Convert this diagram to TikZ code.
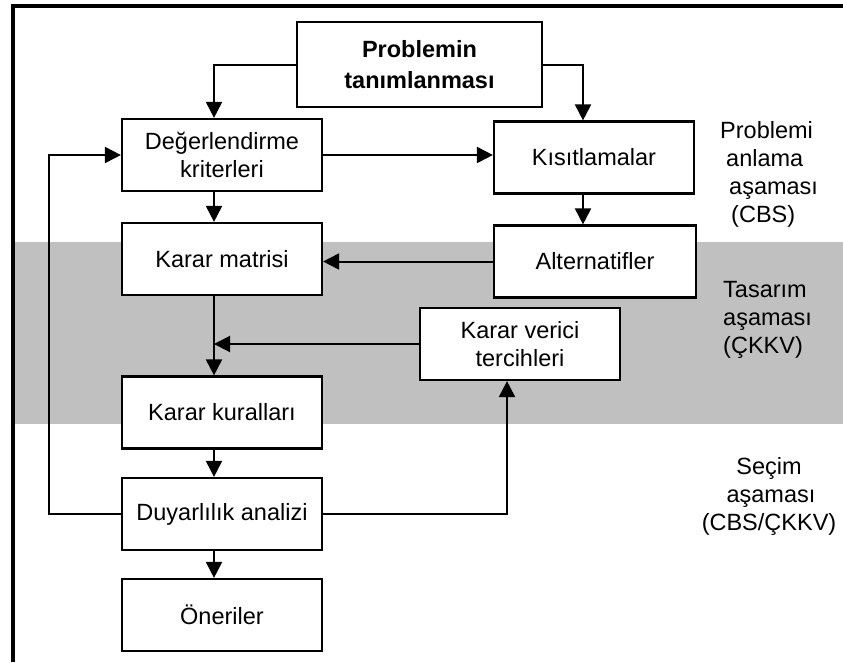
\documentclass[tikz,border=0pt]{standalone}
\usepackage{fontspec}
\setmainfont{Liberation Sans}
\usetikzlibrary{arrows.meta}
\definecolor{bandgray}{RGB}{192,192,192}

\begin{document}
\begin{tikzpicture}[x=1pt,y=-1pt]
\useasboundingbox (0,0) rectangle (843,662);
% phase band and frame
\fill[bandgray] (15,242) rectangle (843,424);
\draw[line width=3.5pt] (13,662) -- (13,6) -- (843,6);
\begin{scope}[every node/.style={draw,line width=2.2pt,fill=white,align=center,minimum width=200pt,minimum height=72pt,inner sep=0pt,font=\fontsize{23.5}{28}\selectfont}]
    \node[font=\fontsize{23.5}{31}\selectfont\bfseries,minimum width=245pt,minimum height=85pt] (prob) at (419.5,64.5) {Problemin\\tanımlanması};
    \node (deg) at (222,155) {Değerlendirme\\kriterleri};
    \node (kis) at (594,157.5) {Kısıtlamalar};
    \node (mat) at (222,259) {Karar matrisi};
    \node[minimum width=202pt] (alt) at (595,261.5) {Alternatifler};
    \node (terc) at (520,344) {Karar verici\\tercihleri};
    \node (kur) at (222,412.5) {Karar kuralları};
    \node (duy) at (222,514) {Duyarlılık analizi};
    \node (oner) at (222,615) {Öneriler};
\end{scope}
\begin{scope}[every node/.style={inner sep=0pt,font=\fontsize{23.5}{28}\selectfont}]
    \node[anchor=west,align=left] (anlama) at (720,174) {Problemi\\\hspace{6pt}anlama\\\hspace{9pt}aşaması\\\hspace{11pt}(CBS)};
    \node[anchor=west,align=left] (tasarim) at (723,320) {Tasarım\\aşaması\\(ÇKKV)};
    \node[align=center] (secim) at (769,496) {Seçim\\\hspace{4pt}aşaması\\(CBS/ÇKKV)};
\end{scope}
\coordinate (col) at ([xshift=-8pt]mat.south);
\begin{scope}[>={Triangle[length=16pt,width=16pt]},line width=2pt]
    \draw[->] (prob.west) -| ([xshift=-8pt]deg.north);
    \draw[->] (prob.east) -| ([xshift=-11pt]kis.north);
    \draw[->] (deg.east) -- (deg.east -| kis.west);
    \draw[->] ([xshift=-8pt]deg.south) -- ([xshift=-8pt]mat.north);
    \draw[->] ([xshift=-11pt]kis.south) -- ([xshift=-11pt]kis.south |- alt.north);
    \draw[->] (alt.west) -- (alt.west -| mat.east);
    \draw[->] ([xshift=-8pt]mat.south) -- ([xshift=-8pt]kur.north);
    \draw[->] (terc.west) -- (terc.west -| col);
    \draw[->] ([xshift=-8pt]kur.south) -- ([xshift=-8pt]duy.north);
    \draw[->] ([xshift=-8pt]duy.south) -- ([xshift=-8pt]oner.north);
    \draw[->] (duy.west) -- ++(-72,0) |- (deg.west);
    \draw[->] (duy.east) -| ([xshift=-13pt]terc.south);
\end{scope}
\end{tikzpicture}
\end{document}
